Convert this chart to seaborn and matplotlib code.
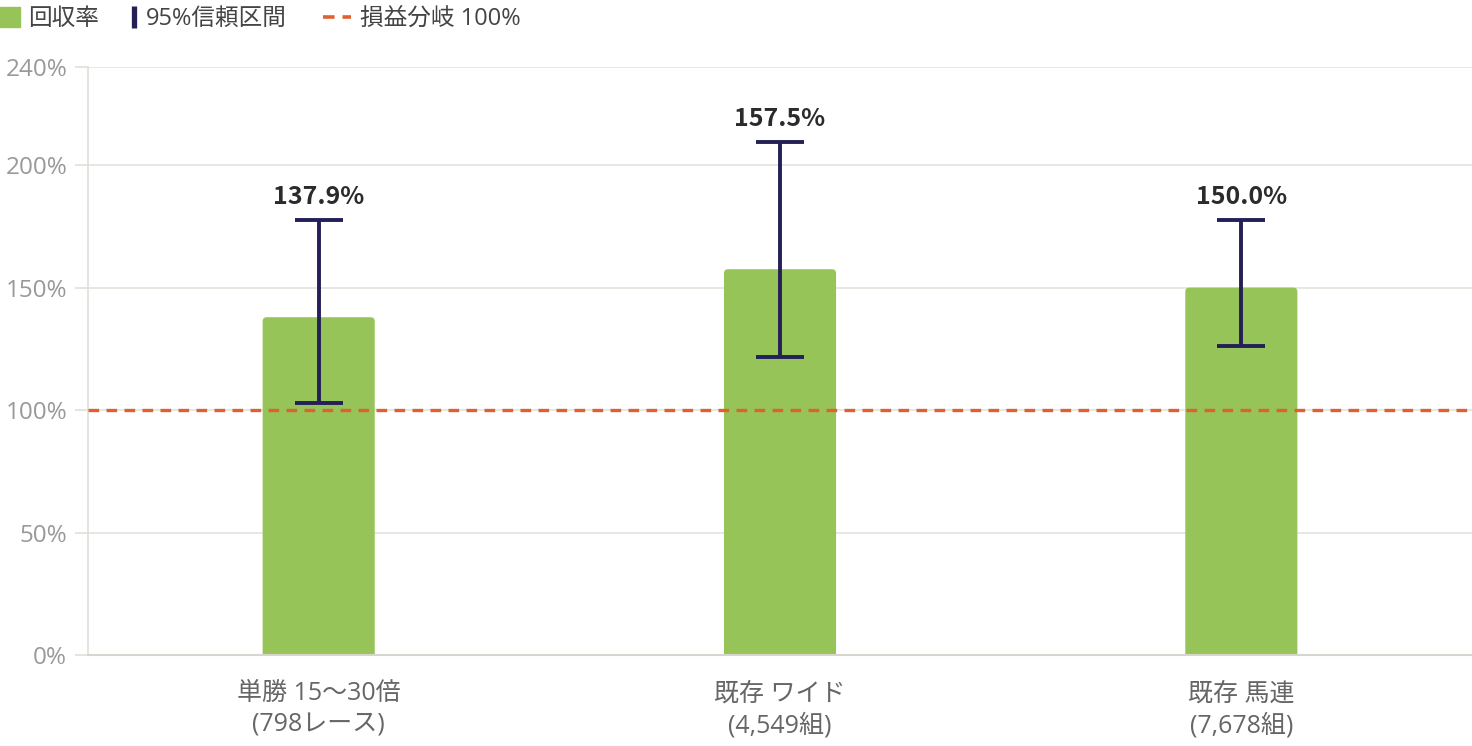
import matplotlib
matplotlib.use("Agg")
import matplotlib.pyplot as plt
from matplotlib.lines import Line2D
from matplotlib.patches import FancyBboxPatch
import seaborn as sns
import pandas as pd

# data
categories = ["単勝 15〜30倍\n(798レース)", "既存 ワイド\n(4,549組)", "既存 馬連\n(7,678組)"]
recovery = [137.9, 157.5, 150.0]
ci_low = [103.0, 121.6, 126.3]
ci_high = [177.4, 209.3, 177.7]
breakeven = 100
yticks = [0, 50, 100, 150, 200, 240]

bar_color = "#97c459"
err_color = "#242057"
line_color = "#e0602f"

sns.set_theme(style="white")
plt.rcParams["font.family"] = ["Open Sans", "Noto Sans CJK JP", "DejaVu Sans"]

W, H = 1472, 746
fig = plt.figure(figsize=(W / 100, H / 100), dpi=100)
ax = fig.add_axes([0.0598, 0.122, 0.9402, 0.788])

df = pd.DataFrame({"cat": categories, "rate": recovery})
sns.barplot(data=df, x="cat", y="rate", color=bar_color, saturation=1,
            width=0.243, ax=ax, zorder=2)
ax.set_ylim(0, 240)
ax.set_xlim(-0.5, 2.5)

# slightly rounded bar tops: swap seaborn's rectangles for rounded boxes
fig.canvas.draw()
bb = ax.get_window_extent()
aspect = (240 / bb.height) / (3 / bb.width)
for p in list(ax.patches):
    x, w, h = p.get_x(), p.get_width(), p.get_height()
    p.remove()
    ax.add_patch(FancyBboxPatch((x, -5), w, h + 5, boxstyle="round,pad=0,rounding_size=0.009",
                                mutation_aspect=aspect, fc=bar_color, ec="none", zorder=2))

# 95% CI
yerr = [[r - lo for r, lo in zip(recovery, ci_low)],
        [hi - r for r, hi in zip(recovery, ci_high)]]
ax.errorbar(range(len(categories)), recovery, yerr=yerr, fmt="none",
            ecolor=err_color, elinewidth=2.8, capsize=17, capthick=2.8, zorder=4)

# value labels above the upper cap
for i, (v, hi) in enumerate(zip(recovery, ci_high)):
    ax.annotate(f"{v:.1f}%", (i, hi), xytext=(0, 8), textcoords="offset points",
                ha="center", va="bottom", fontsize=18, fontweight="bold",
                color="#2b2b2b", family=["Noto Sans CJK JP", "DejaVu Sans"])

ax.axhline(breakeven, color=line_color, lw=2.4, ls=(0, (3.2, 2.2)), zorder=3)

ax.set_yticks(yticks)
ax.set_yticklabels([f"{t}%" for t in yticks])
ax.yaxis.grid(True, color="#e6e6df", lw=1.3)
ax.set_axisbelow(True)
ax.set_xlabel("")
ax.set_ylabel("")

for s in ["top", "right"]:
    ax.spines[s].set_visible(False)
ax.spines["left"].set_color("#e0e0da")
ax.spines["bottom"].set_color("#d6d6cf")
ax.spines["left"].set_linewidth(1.2)
ax.spines["bottom"].set_linewidth(1.5)

ax.tick_params(axis="y", length=9.5, width=1.2, color="#e0e0da", labelsize=17.5,
               labelcolor="#999999", pad=5.5, left=True)
ax.tick_params(axis="x", length=0, labelsize=18, labelcolor="#666666", pad=19)
for lbl in ax.get_xticklabels():
    lbl.set_linespacing(1.3)

# legend: one entry per legend so each sits where the reference puts it
handles = [
    Line2D([], [], marker="s", ls="none", color=bar_color, markersize=14.5),
    Line2D([], [], marker="|", ls="none", color=err_color, markersize=16.5, markeredgewidth=3.8),
    Line2D([], [], color=line_color, lw=2.6, ls=(0, (3.2, 2.2))),
]
labels = ["回収率", "95%信頼区間", "損益分岐 100%"]
starts_px = [-4.5, 126.5, 323]
hlens = [1.2, 0.6, 1.2]
pads = [0.2, 0.2, 0.35]
for hd, lb, x0, hl, tp in zip(handles, labels, starts_px, hlens, pads):
    fig.legend([hd], [lb], loc="upper left", bbox_to_anchor=(x0 / W, 1 - 7 / H),
               frameon=False, fontsize=17, handlelength=hl, handletextpad=tp,
               borderpad=0, borderaxespad=0, labelcolor="#444444")

fig.savefig("out.png", dpi=100)
